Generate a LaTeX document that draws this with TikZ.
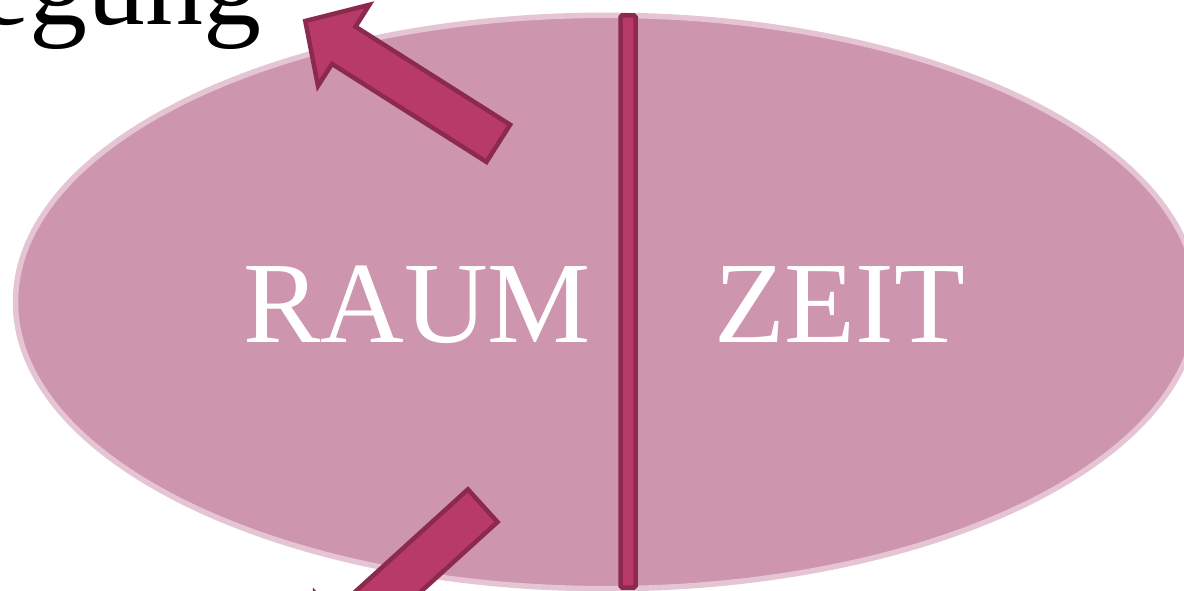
\documentclass[tikz,border=0pt]{standalone}
\usepackage{fontspec}
\setmainfont{Liberation Serif}
\definecolor{ellfill}{HTML}{CD95AE}
\definecolor{ellrim}{HTML}{E5C4D4}
\definecolor{barfill}{HTML}{B83B67}
\definecolor{barrim}{HTML}{8B2A4E}
\tikzset{
  bigtxt/.style={inner sep=0pt, outer sep=0pt, font=\fontsize{116}{139}\selectfont},
  ovalshape/.style={fill=ellfill, draw=ellrim, line width=5.5pt},
  divider/.style={fill=barfill, draw=barrim, line width=4.5pt, rounded corners=1.5pt},
  blockarrow/.style={fill=barfill, draw=barrim, line width=4.5pt, line join=miter},
}
\begin{document}
\begin{tikzpicture}[x=1pt,y=-1pt]
\useasboundingbox (0,0) rectangle (1184,591);
\clip (0,0) rectangle (1184,591);
% oval
\draw[ovalshape] (606.5,302) ellipse [x radius=591, y radius=286.7];
% divider bar
\draw[divider] (620.5,15.5) rectangle (635.5,587.5);
% texts
\node[bigtxt, anchor=base east, text=black] (bew) at (261.5,25) {Bewegung};
\node[bigtxt, anchor=base west, text=white] (raum) at (243,342.5) {RAUM};
\node[bigtxt, anchor=base west, text=white] (zeit) at (714,342.5) {ZEIT};
% upper arrow
\draw[blockarrow] (510.1,124.7) -- (355.5,26.7) -- (369.4,4.8) -- (305.3,21.0)
  -- (318.0,85.9) -- (332.0,63.9) -- (486.5,161.9) -- cycle;
% lower arrow
\draw[blockarrow] (497.5,522.0) -- (362.1,645.0) -- (379.6,664.2) -- (313.6,659.3)
  -- (315.0,593.2) -- (332.5,612.4) -- (467.9,489.4) -- cycle;
\end{tikzpicture}
\end{document}
